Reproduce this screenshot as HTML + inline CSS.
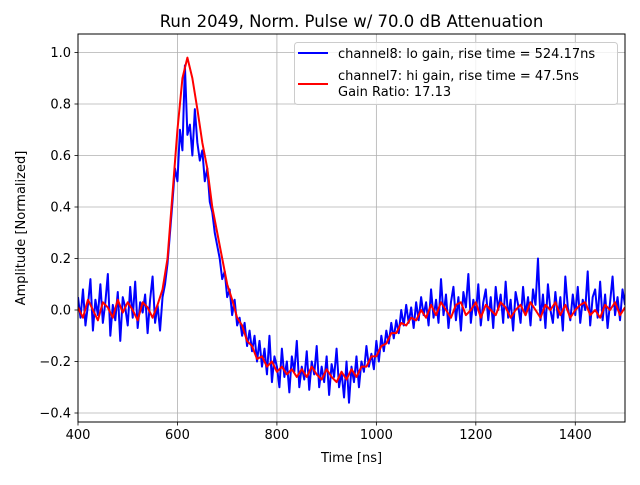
<!DOCTYPE html>
<html><head><meta charset="utf-8"><style>
body{margin:0;background:#fff}
svg text{font-family:"DejaVu Sans","Liberation Sans",sans-serif;fill:#000}
</style></head><body>
<svg id="chart" width="640" height="480" viewBox="0 0 640 480" xmlns="http://www.w3.org/2000/svg">
<rect width="640" height="480" fill="#fff"/>
<g id="grid"></g>
<g id="series" clip-path="url(#clip)"></g>
<defs><clipPath id="clip"><rect x="78" y="34" width="547" height="388"/></clipPath></defs>
<rect x="78" y="34" width="547" height="388" fill="none" stroke="#000" stroke-width="1"/>
<g id="ticks"></g>
<text x="351.5" y="27" font-size="16.5" text-anchor="middle">Run 2049, Norm. Pulse w/ 70.0 dB Attenuation</text>
<text x="351.5" y="462" font-size="13" text-anchor="middle">Time [ns]</text>
<text transform="translate(25,228) rotate(-90)" font-size="13" text-anchor="middle">Amplitude [Normalized]</text>
<g>
<rect x="294.5" y="42.5" width="323" height="62" rx="3" fill="#fff" fill-opacity="0.8" stroke="#ccc"/>
<line x1="298" y1="53" x2="328" y2="53" stroke="#0000ff" stroke-width="2"/>
<text x="338" y="58" font-size="13">channel8: lo gain, rise time = 524.17ns</text>
<line x1="298" y1="84" x2="328" y2="84" stroke="#ff0000" stroke-width="2"/>
<text x="338" y="80" font-size="13">channel7: hi gain, rise time = 47.5ns</text>
<text x="338" y="96" font-size="13">Gain Ratio: 17.13</text>
</g>
</svg>
<script>
const xTicks=[400,600,800,1000,1200,1400];
const yTicks=[-0.4,-0.2,0.0,0.2,0.4,0.6,0.8,1.0];
const yTickLabels=["−0.4","−0.2","0.0","0.2","0.4","0.6","0.8","1.0"];
const blueStart=400, blueStep=5;
const blueValues=[0.05,-0.03,0.08,-0.06,0.02,0.12,-0.08,0.04,-0.02,0.1,-0.05,0.03,0.14,-0.1,0.02,-0.04,0.07,-0.12,0.05,0.01,-0.06,0.09,-0.03,0.11,-0.07,0.03,-0.01,0.06,-0.09,0.04,0.13,-0.05,0.02,-0.08,0.05,
0.1,0.18,0.3,0.42,0.55,0.5,0.7,0.62,0.95,0.68,0.72,0.6,0.78,0.65,0.58,0.62,0.5,0.55,0.42,0.38,0.3,0.25,0.2,0.12,0.15,0.05,0.08,-0.02,0.04,-0.06,-0.03,-0.1,-0.05,-0.14,-0.08,-0.16,-0.1,-0.2,-0.12,-0.22,-0.15,-0.25,-0.1,-0.28,-0.18,-0.22,-0.3,-0.15,-0.26,-0.2,-0.32,-0.18,-0.24,-0.12,-0.3,-0.22,-0.27,-0.16,-0.31,-0.2,-0.25,-0.14,-0.3,-0.22,-0.28,-0.18,-0.33,-0.21,-0.26,-0.15,-0.3,-0.24,-0.34,-0.2,-0.36,-0.22,-0.28,-0.18,-0.3,-0.2,-0.24,-0.14,-0.22,-0.17,-0.23,-0.12,-0.2,-0.1,-0.16,-0.08,-0.13,-0.05,-0.11,-0.04,-0.09,0.0,-0.06,0.02,-0.05,0.01,-0.07,0.03,-0.04,0.05,-0.02,0.03,-0.06,0.08,-0.03,0.04,-0.05,0.12,-0.02,0.06,-0.07,0.03,0.09,-0.04,0.05,-0.08,0.07,0.01,0.14,-0.05,0.04,-0.02,0.1,-0.06,0.03,0.08,-0.04,0.05,-0.07,0.09,0.0,0.06,-0.05,0.11,-0.03,0.04,-0.08,0.07,0.02,-0.05,0.09,-0.02,0.05,-0.06,0.08,0.02,0.2,-0.04,0.06,-0.07,0.1,0.0,-0.05,0.07,-0.03,0.05,-0.08,0.13,0.01,-0.04,0.06,-0.02,0.09,-0.05,0.04,0.0,0.15,-0.06,0.05,0.08,-0.03,0.11,-0.04,0.06,-0.07,0.03,0.13,-0.02,0.05,-0.04,0.08,0.02];
const redStart=400, redStep=10;
const redValues=[0.01,-0.03,0.04,0.0,-0.04,0.03,0.01,-0.03,0.04,-0.01,0.03,0.0,-0.04,0.03,0.01,-0.03,0.02,
0.08,0.2,0.45,0.7,0.9,0.98,0.9,0.78,0.65,0.55,0.4,0.3,0.2,0.1,0.04,-0.03,-0.06,-0.12,-0.14,-0.19,-0.18,-0.22,-0.2,-0.24,-0.22,-0.25,-0.23,-0.26,-0.23,-0.26,-0.22,-0.25,-0.27,-0.23,-0.26,-0.28,-0.24,-0.27,-0.23,-0.26,-0.22,-0.22,-0.18,-0.18,-0.14,-0.13,-0.09,-0.09,-0.05,-0.06,-0.03,-0.04,0.0,-0.03,
0.02,-0.02,0.03,0.0,-0.03,0.02,0.03,-0.02,0.0,0.03,-0.03,0.02,0.0,-0.02,0.03,0.01,-0.03,0.0,0.02,-0.02,0.03,0.0,-0.03,0.02,0.0,0.03,-0.02,0.02,-0.03,0.0,0.02,0.03,-0.02,0.0,-0.03,0.02,0.0,0.03,-0.02,0.01];
const NS="http://www.w3.org/2000/svg";
function xs(t){return 78+(t-400)*547/1100;}
function ys(v){return 310-v*257.5;}
const grid=document.getElementById('grid'),ticks=document.getElementById('ticks'),ser=document.getElementById('series');
function mk(tag,attrs,parent){const e=document.createElementNS(NS,tag);for(const k in attrs)e.setAttribute(k,attrs[k]);parent.appendChild(e);return e;}
xTicks.forEach(t=>{const x=xs(t);
const g=mk('line',{x1:x,y1:34,x2:x,y2:422,stroke:'#b0b0b0','stroke-width':0.8},grid);


mk('line',{x1:x,y1:422,x2:x,y2:425.5,stroke:'#000','stroke-width':0.8},ticks);
const l=mk('text',{x:x,y:439,'font-size':13,'text-anchor':'middle'},ticks);l.textContent=t;

});
yTicks.forEach((v,i)=>{const y=ys(v);
const g=mk('line',{x1:78,y1:y,x2:625,y2:y,stroke:'#b0b0b0','stroke-width':0.8},grid);


mk('line',{x1:74.5,y1:y,x2:78,y2:y,stroke:'#000','stroke-width':0.8},ticks);
const l=mk('text',{x:71,y:y+4.5,'font-size':13,'text-anchor':'end'},ticks);l.textContent=yTickLabels[i];

});
function path(vals,start,step,color,name){const d=vals.map((v,i)=>(i?'L':'M')+xs(start+i*step).toFixed(2)+','+ys(v).toFixed(2)).join('');
const p=mk('path',{d:d,fill:'none',stroke:color,'stroke-width':2,'stroke-linejoin':'round'},ser);

}
path(blueValues,blueStart,blueStep,'#0000ff','channel8-line');
path(redValues,redStart,redStep,'#ff0000','channel7-line');
</script>
</body></html>
